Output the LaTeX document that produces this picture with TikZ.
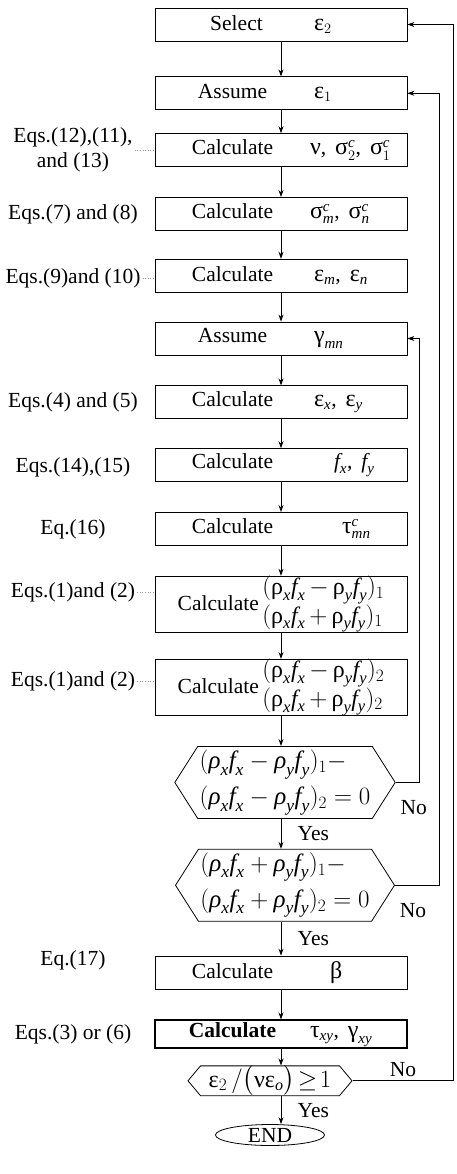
\documentclass[tikz,border=0pt]{standalone}
\usepackage{fontspec,amsmath}
\setmainfont{Liberation Serif}
\usetikzlibrary{arrows.meta,positioning,shapes.geometric,shapes.symbols}
\definecolor{leadgray}{gray}{0.6}
\newcommand{\gk}[1]{\text{\fontsize{24}{26}\selectfont #1}}
\newcommand{\itv}[1]{\textit{#1}}
\newcommand{\pair}[2]{\makebox[155pt]{#1}\makebox[97pt][l]{#2}}
\newcommand{\rfu}[1]{\gk{ρ}_{\itv{#1}}\itv{f}_{\itv{#1}}}
\newcommand{\rfi}[1]{\itv{ρ}_{\itv{#1}}\itv{f}_{\itv{#1}}}

\begin{document}
\begin{tikzpicture}[x=1pt, y=1pt, >={Stealth[length=7pt,width=5pt]},
  font=\fontsize{21.5}{25}\selectfont,
  stepbox/.style={draw, line width=0.8pt, minimum width=252pt, minimum height=33pt, inner sep=0pt},
  decision/.style={draw, line width=0.8pt, signal, signal to=west and east, signal pointer angle=115, inner xsep=2pt, inner ysep=0pt},
  eqlabel/.style={align=center, inner sep=2pt},
  flow/.style={->, line width=0.8pt},
  leader/.style={dotted, leadgray, line width=0.6pt}]
  \useasboundingbox (0,0) rectangle (456,-1174);
  \coordinate (lblcol) at (73,0);
  \node[stepbox] (sel) at (281,-24.5) {\pair{\hspace{8pt}Select}{\hspace{4pt}$\gk{ε}_2$}};
  \node[stepbox, below=35pt of sel] (asm1) {\pair{Assume}{\hspace{4pt}$\gk{ε}_1$}};
  \node[stepbox, below=23pt of asm1] (nu)
    {\pair{Calculate}{$\gk{ν}$,\, $\gk{σ}_2^{\itv{c}}$,\, $\gk{σ}_1^{\itv{c}}$}};
  \node[stepbox, below=30pt of nu] (sig)
    {\pair{Calculate}{$\gk{σ}_{\itv{m}}^{\itv{c}}$,\, $\gk{σ}_{\itv{n}}^{\itv{c}}$}};
  \node[stepbox, below=28pt of sig] (epsmn)
    {\pair{Calculate}{\hspace{4pt}$\gk{ε}_{\itv{m}}$,\, $\gk{ε}_{\itv{n}}$}};
  \node[stepbox, below=29pt of epsmn] (gam) {\pair{Assume}{\hspace{4pt}$\gk{γ}_{\itv{mn}}$}};
  \node[stepbox, below=30pt of gam] (epsxy)
    {\pair{Calculate}{\hspace{4pt}$\gk{ε}_{\itv{x}}$,\, $\gk{ε}_{\itv{y}}$}};
  \node[stepbox, below=29pt of epsxy] (fxy)
    {\pair{Calculate}{\hspace{24pt}$\itv{f}_{\itv{x}}$,\, $\itv{f}_{\itv{y}}$}};
  \node[stepbox, below=30pt of fxy] (tau)
    {\pair{Calculate}{\hspace{32pt}$\gk{τ}_{\itv{mn}}^{\itv{c}}$}};
  \node[stepbox, minimum height=55pt, below=30pt of tau] (rho1)
    {Calculate\,{\fontsize{23.5}{23}\selectfont\begin{tabular}{@{}l@{}}$(\rfu{x}\,{-}\,\rfu{y})_1$\\$(\rfu{x}\,{+}\,\rfu{y})_1$\end{tabular}}};
  \node[stepbox, minimum height=55pt, below=26pt of rho1] (rho2)
    {Calculate\,{\fontsize{23.5}{23}\selectfont\begin{tabular}{@{}l@{}}$(\rfu{x}\,{-}\,\rfu{y})_2$\\$(\rfu{x}\,{+}\,\rfu{y})_2$\end{tabular}}};
  \node[decision, minimum width=217pt, minimum height=72pt, below=30pt of rho2, xshift=4pt] (hex1)
    {\fontsize{25}{27}\selectfont\begin{tabular}{@{}l@{}}$(\rfi{x}-\rfi{y})_1-$\\[9pt]$(\rfi{x}-\rfi{y})_2=0$\end{tabular}};
  \node[decision, minimum width=217pt, minimum height=72pt, below=30pt of hex1] (hex2)
    {\fontsize{25}{27}\selectfont\begin{tabular}{@{}l@{}}$(\rfi{x}+\rfi{y})_1-$\\[9pt]$(\rfi{x}+\rfi{y})_2=0$\end{tabular}};
  \node[stepbox, below=34pt of hex2, xshift=-4pt] (beta)
    {\pair{Calculate}{\hspace{20pt}$\gk{β}$}};
  \node[stepbox, line width=2pt, minimum height=28pt, below=30pt of beta] (tauxy)
    {\pair{\textbf{Calculate}}{$\gk{τ}_{\itv{xy}}$,\, $\gk{γ}_{\itv{xy}}$}};
  \node[decision, signal pointer angle=100, minimum width=164pt, minimum height=26pt, below=16pt of tauxy, xshift=-11pt] (hex3)
    {\fontsize{23}{25}\selectfont$\gk{ε}_2\,/\bigl(\gk{ν}\gk{ε}_{\itv{o}}\bigr)\!\geq\! 1$};
  \node[draw, ellipse, line width=0.8pt, minimum width=109pt, minimum height=21pt, inner sep=0pt, below=28pt of hex3] (stop) {END};

  \node[eqlabel] (e3) at (lblcol |- nu) {Eqs.(12),(11),\\and (13)};
  \node[eqlabel] (e4) at (lblcol |- sig) {Eqs.(7) and (8)};
  \node[eqlabel, yshift=-3pt] (e5) at (lblcol |- epsmn) {Eqs.(9)and (10)};
  \node[eqlabel] (e7) at (lblcol |- epsxy) {Eqs.(4) and (5)};
  \node[eqlabel, yshift=-2pt] (e8) at (lblcol |- fxy) {Eqs.(14),(15)};
  \node[eqlabel] (e9) at (lblcol |- tau) {Eq.(16)};
  \node[eqlabel, yshift=12pt] (e10) at (lblcol |- rho1) {Eqs.(1)and (2)};
  \node[eqlabel, yshift=6pt] (e11) at (lblcol |- rho2) {Eqs.(1)and (2)};
  \node[eqlabel, yshift=12pt] (e14) at (lblcol |- beta) {Eq.(17)};
  \node[eqlabel] (e15) at (lblcol |- tauxy) {Eqs.(3) or (6)};

  \draw[leader] (e3) -- (nu);
  \draw[leader] (e5.east) -- (e5.east -| epsmn.west);
  \draw[leader] (e10.east) -- (e10.east -| rho1.west);
  \draw[leader] (e11.east) -- (e11.east -| rho2.west);

  \draw[flow] (sel) -- (asm1);
  \draw[flow] (asm1) -- (nu);
  \draw[flow] (nu) -- (sig);
  \draw[flow] (sig) -- (epsmn);
  \draw[flow] (epsmn) -- (gam);
  \draw[flow] (gam) -- (epsxy);
  \draw[flow] (epsxy) -- (fxy);
  \draw[flow] (fxy) -- (tau);
  \draw[flow] (tau) -- (rho1);
  \draw[flow] (rho1) -- (rho2);
  \draw[flow] (rho2) -- (rho2.south |- hex1.north);
  \draw[flow] (hex1.south -| rho2.south) -- node[right, xshift=13pt] (yes1) {Yes} (hex2.north -| rho2.south);
  \draw[flow] (hex2.south -| rho2.south) -- node[right, xshift=13pt] (yes2) {Yes} (beta);
  \draw[flow] (beta) -- (tauxy);
  \draw[flow] (tauxy) -- (tauxy.south |- hex3.north);
  \draw[flow] (hex3.south -| tauxy.south) -- node[right, xshift=13pt] (yes3) {Yes} (stop.north -| tauxy.south);

  \draw[flow] (hex1.east) -- ++(24,0) |- (gam.east);
  \draw[flow] (hex2.east) -- ++(44,0) |- (asm1.east);
  \draw[flow] (hex3.east) -- node[above] (no3) {No} ++(101,0) |- (sel.east);
  \node (no1) at ([shift={(18,-25)}]hex1.east) {No};
  \node (no2) at ([shift={(18,-25)}]hex2.east) {No};
\end{tikzpicture}
\end{document}
